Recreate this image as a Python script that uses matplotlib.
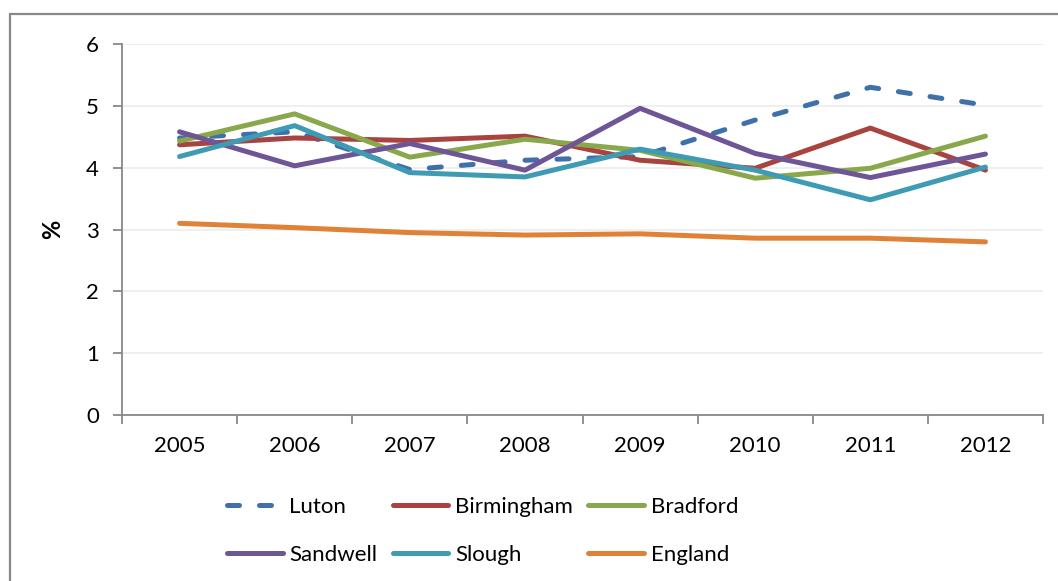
import numpy as np
import matplotlib.pyplot as plt
from matplotlib.patches import Rectangle

plt.rcParams['font.family'] = ['Lato', 'DejaVu Sans']

years = ['2005', '2006', '2007', '2008', '2009', '2010', '2011', '2012']

luton = [4.48, 4.58, 3.97, 4.12, 4.18, 4.77, 5.30, 5.01]
birmingham = [4.37, 4.48, 4.44, 4.51, 4.12, 3.99, 4.64, 3.96]
bradford = [4.43, 4.87, 4.17, 4.46, 4.28, 3.83, 3.99, 4.51]
sandwell = [4.58, 4.03, 4.39, 3.96, 4.96, 4.23, 3.84, 4.22]
slough = [4.18, 4.68, 3.92, 3.85, 4.30, 3.96, 3.48, 4.01]
england = [3.10, 3.03, 2.95, 2.91, 2.93, 2.86, 2.86, 2.80]

names = ['Luton', 'Birmingham', 'Bradford', 'Sandwell', 'Slough', 'England']
colors = ['#4070aa', '#a9433f', '#88a84b', '#6e5596', '#3f9bb3', '#df8238']

fig = plt.figure(figsize=(10.58, 5.81), dpi=100)
ax = fig.add_axes([122/1058, 1 - 415/581, (1043-122)/1058, (415-44)/581])

# outer chart frame (right and bottom edges fall outside the picture)
fig.patches.append(Rectangle((10/1058, -0.1), 1.2, (581-14)/581 + 0.1,
                             transform=fig.transFigure, fill=False,
                             edgecolor='#888888', linewidth=1.6, clip_on=False))

x = np.arange(len(years))
series = [luton, birmingham, bradford, sandwell, slough, england]
lines = {}
for name, vals, c in zip(names, series, colors):
    if name == 'Luton':
        ln, = ax.plot(x, vals, color=c, lw=3.6, label=name, dashes=(2.4, 4.0),
                      dash_capstyle='round', solid_capstyle='round')
    else:
        ln, = ax.plot(x, vals, color=c, lw=3.6, label=name, solid_capstyle='round')
    lines[name] = ln

ax.set_xlim(-0.5, len(years) - 0.5)
ax.set_ylim(0, 6)
ax.set_yticks(range(0, 7))
ax.set_xticks(x)
ax.set_xticklabels(years)
ax.set_xticks(np.arange(-0.5, len(years)), minor=True)
ax.tick_params(axis='x', which='major', length=0, pad=15, labelsize=16)
ax.tick_params(axis='x', which='minor', length=6.5, width=1.3, color='#888888')
ax.tick_params(axis='y', length=6.5, width=1.3, color='#888888', pad=10, labelsize=16)

ax.grid(axis='y', color='#eeeeee', lw=1.3)
ax.set_axisbelow(True)
for s in ['top', 'right']:
    ax.spines[s].set_visible(False)
for s in ['left', 'bottom']:
    ax.spines[s].set_color('#888888')
    ax.spines[s].set_linewidth(1.3)

ax.set_ylabel('%', fontsize=17, fontweight='bold', labelpad=16)

# legend filled row by row, as in the reference
order = ['Luton', 'Sandwell', 'Birmingham', 'Slough', 'Bradford', 'England']
fig.legend([lines[n] for n in order], order, loc='upper left',
           bbox_to_anchor=(207/1058, 1 - 477/581), ncol=3,
           frameon=False, fontsize=16, handlelength=2.5, handletextpad=0.3,
           columnspacing=0.7, labelspacing=1.25)

fig.savefig('out.png', dpi=100)
